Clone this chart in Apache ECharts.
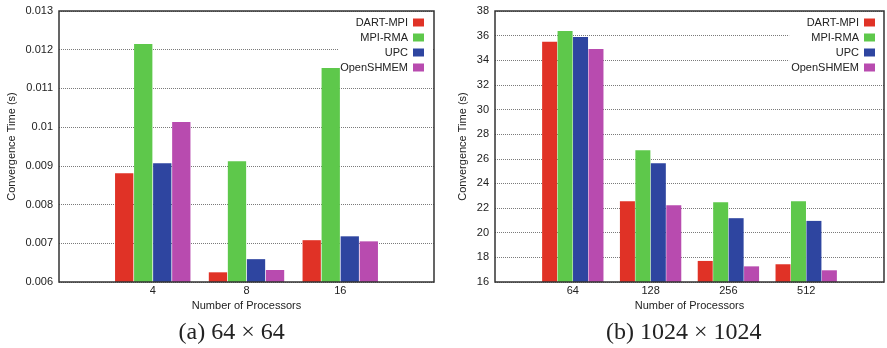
<!DOCTYPE html>
<html>
<head>
<meta charset="utf-8">
<script src="https://cdn.jsdelivr.net/npm/echarts@6/dist/echarts.min.js"></script>
<style>
html,body{margin:0;padding:0;background:#fff;}
#c{width:887px;height:348px;}
</style>
</head>
<body>
<div id="c"></div>
<script>
// ---- data ----
const seriesNames = ['DART-MPI', 'MPI-RMA', 'UPC', 'OpenSHMEM'];
const seriesColors = ['#E03226', '#5EC84B', '#2E45A0', '#B84BAF'];

// (a) 64 x 64
const catsA = ['', '4', '8', '16', ''];
const dartA = [null, 0.00881, 0.00625, 0.00708, null];
const rmaA  = [null, 0.01215, 0.00912, 0.01153, null];
const upcA  = [null, 0.00907, 0.00659, 0.00718, null];
const shmA  = [null, 0.01013, 0.00631, 0.00705, null];
const yTicksA = [0.006, 0.007, 0.008, 0.009, 0.01, 0.011, 0.012, 0.013];

// (b) 1024 x 1024
const catsB = ['', '64', '128', '256', '512', ''];
const dartB = [null, 35.51, 22.56, 17.71, 17.44, null];
const rmaB  = [null, 36.38, 26.70, 22.48, 22.56, null];
const upcB  = [null, 35.89, 25.65, 21.18, 20.96, null];
const shmB  = [null, 34.92, 22.23, 17.27, 16.95, null];
const yTicksB = [16, 18, 20, 22, 24, 26, 28, 30, 32, 34, 36, 38];

const captionA = '(a) 64 × 64';
const captionB = '(b) 1024 × 1024';
const xName = 'Number of Processors';
const yName = 'Convergence Time (s)';

// ---- chart ----
const FONT = 'Liberation Sans, Arial, Helvetica, sans-serif';
const TXT = '#222';
const chart = echarts.init(document.getElementById('c'), null, {renderer: 'canvas'});

function xAxis(idx, cats) {
  return {
    type: 'category', gridIndex: idx, data: cats, boundaryGap: false,
    axisLine: {show: false}, axisTick: {show: false},
    axisLabel: {color: TXT, fontSize: 11, fontFamily: FONT, margin: 3},
    splitLine: {show: false},
    name: xName, nameLocation: 'middle', nameGap: 14,
    nameTextStyle: {color: TXT, fontSize: 11, fontFamily: FONT}
  };
}
function yAxis(idx, ticks, gap, fmt) {
  return {
    type: 'value', gridIndex: idx,
    min: ticks[0], max: ticks[ticks.length - 1], interval: ticks[1] - ticks[0],
    axisLine: {show: false}, axisTick: {show: false},
    axisLabel: {color: TXT, fontSize: 11, fontFamily: FONT, margin: 6, formatter: fmt},
    splitLine: {show: true, lineStyle: {color: '#7a7a7a', width: 1, type: [1, 1]}},
    name: yName, nameLocation: 'middle', nameGap: gap,
    nameTextStyle: {color: TXT, fontSize: 11, fontFamily: FONT}
  };
}
const dataA = [dartA, rmaA, upcA, shmA];
const dataB = [dartB, rmaB, upcB, shmB];
const series = [];
seriesNames.forEach((n, i) => {
  series.push({
    type: 'bar', name: n, xAxisIndex: 0, yAxisIndex: 0, data: dataA[i], z: 3,
    barWidth: 18.3, barGap: '4%', itemStyle: {color: seriesColors[i]}, animation: false
  });
});
seriesNames.forEach((n, i) => {
  series.push({
    type: 'bar', name: n, xAxisIndex: 1, yAxisIndex: 1, data: dataB[i], z: 3,
    barWidth: 15, barGap: '3%', itemStyle: {color: seriesColors[i]}, animation: false
  });
});

function legend(right) {
  return {
    data: seriesNames, orient: 'vertical', align: 'right', z: 1,
    right: right, top: 12, itemWidth: 11, itemHeight: 8, itemGap: 4,
    icon: 'rect', padding: [5, 9, 6, 2], backgroundColor: '#fff',
    textStyle: {color: TXT, fontSize: 11, fontFamily: FONT},
    selectedMode: false
  };
}

chart.setOption({
  animation: false,
  backgroundColor: '#fff',
  grid: [
    {left: 59, right: 453, top: 11, bottom: 66, show: true, borderColor: '#333', borderWidth: 1.5, containLabel: false, z: 5},
    {left: 495, right: 2, top: 11, bottom: 66, show: true, borderColor: '#333', borderWidth: 1.5, containLabel: false, z: 5}
  ],
  xAxis: [xAxis(0, catsA), xAxis(1, catsB)],
  yAxis: [
    yAxis(0, yTicksA, 41.5, v => String(+v.toFixed(3))),
    yAxis(1, yTicksB, 26.5, v => String(Math.round(v)))
  ],
  legend: [legend(454), legend(3)],
  series: series,
  graphic: [
    {type: 'text', left: 231.5 - 53, top: 321, style: {text: captionA, fontSize: 24, fontFamily: 'Liberation Serif, Times New Roman, serif', fill: '#222'}},
    {type: 'text', left: 684 - 78, top: 321, style: {text: captionB, fontSize: 24, fontFamily: 'Liberation Serif, Times New Roman, serif', fill: '#222'}}
  ]
});
</script>
</body>
</html>
